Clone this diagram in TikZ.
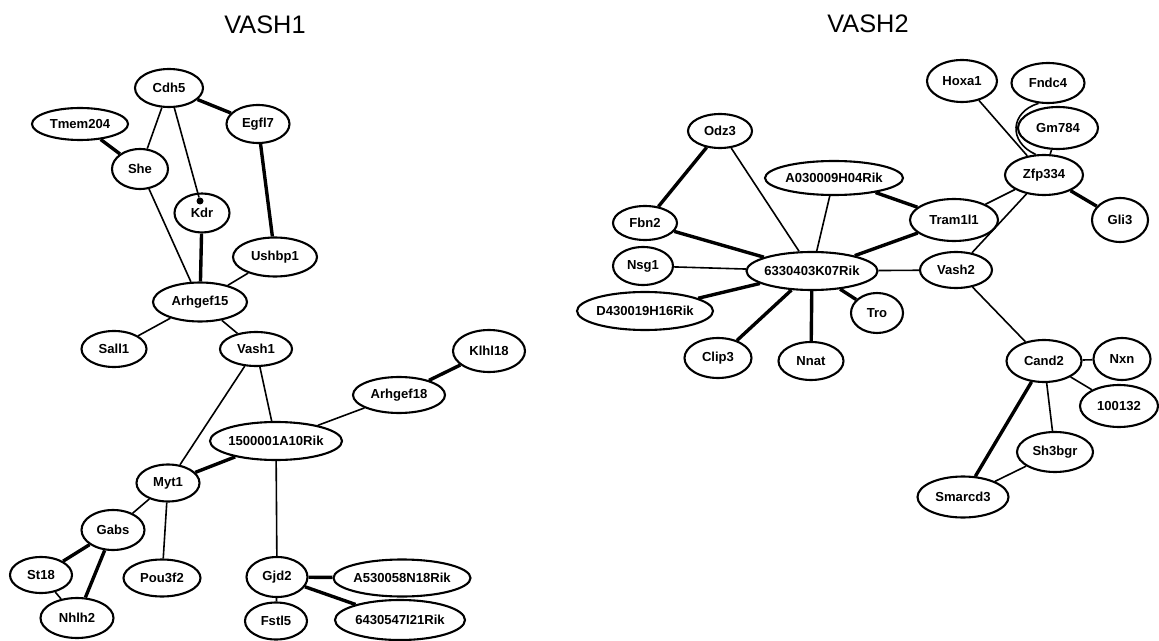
\documentclass[tikz,border=0pt]{standalone}
\usepackage{fontspec}
\setmainfont{Liberation Sans}
\usetikzlibrary{shapes.geometric}
\newcommand{\gtxt}[1]{\makebox[0pt]{#1}}
\begin{document}
\begin{tikzpicture}[x=0.75pt,y=-0.75pt,
  gn/.style={ellipse, draw=black, line width=2.1*0.75pt, inner sep=0pt, fill=white,
             font=\fontsize{9.8}{12}\selectfont\bfseries},
  sz/.style 2 args={minimum width=#1*0.75pt, minimum height=#2*0.75pt},
  ln/.style={line width=1.6*0.75pt},
  thk/.style={line width=3.4*0.75pt},
  ttl/.style={font=\fontsize{19}{22}\selectfont}]
\useasboundingbox (0,0) rectangle (1159,641);

% ---------- VASH1 ----------
\node[ttl] (t1) at (265,25) {VASH1};
\node[gn,sz={68}{38}] (cdh5) at (169,88) {\gtxt{Cdh5}};
\node[gn,sz={96}{32}] (tmem) at (80,124) {\gtxt{Tmem204}};
\node[gn,sz={63}{38}] (egfl7) at (258,124) {\gtxt{Egfl7}};
\node[gn,sz={56}{40}] (she) at (140,169) {\gtxt{She}};
\node[gn,sz={55}{39}] (kdr) at (202,213) {\raisebox{-3pt}{\gtxt{Kdr}}};
\node[circle,fill=black,inner sep=0pt,minimum size=7*0.75pt] (kdrdot) at (200,201) {};
\node[gn,sz={84}{39}] (ushbp1) at (275,257) {\gtxt{Ushbp1}};
\node[gn,sz={94}{39}] (arh15) at (200,302) {\gtxt{Arhgef15}};
\node[gn,sz={65}{36}] (sall1) at (114,349) {\gtxt{Sall1}};
\node[gn,sz={72}{34}] (vash1) at (256,349) {\gtxt{Vash1}};
\node[gn,sz={72}{42}] (klhl18) at (489,351) {\gtxt{Klhl18}};
\node[gn,sz={92}{36}] (arh18) at (399,395) {\gtxt{Arhgef18}};
\node[gn,sz={132}{38}] (r1500) at (276,441) {\gtxt{1500001A10Rik}};
\node[gn,sz={63}{37}] (myt1) at (168,483) {\gtxt{Myt1}};
\node[gn,sz={63}{40}] (gabs) at (113,530) {\gtxt{Gabs}};
\node[gn,sz={62}{36}] (st18) at (41,575) {\gtxt{St18}};
\node[gn,sz={77}{37}] (pou) at (162,578) {\gtxt{Pou3f2}};
\node[gn,sz={61}{40}] (gjd2) at (277,577) {\gtxt{Gjd2}};
\node[gn,sz={137}{37}] (a530) at (402,578) {\gtxt{A530058N18Rik}};
\node[gn,sz={73}{40}] (nhlh2) at (77,618) {\gtxt{Nhlh2}};
\node[gn,sz={62}{37}] (fstl5) at (276,621) {\gtxt{Fstl5}};
\node[gn,sz={130}{40}] (r6430) at (400,620) {\gtxt{6430547I21Rik}};

% ---------- VASH2 ----------
\node[ttl] (t2) at (868,24) {VASH2};
\node[gn,sz={70}{42}] (hoxa1) at (962,81) {\gtxt{Hoxa1}};
\node[gn,sz={73}{40}] (fndc4) at (1048,83) {\gtxt{Fndc4}};
\node[gn,sz={80}{42}] (gm784) at (1058,128) {\gtxt{Gm784}};
\node[gn,sz={64}{34}] (odz3) at (720,131) {\gtxt{Odz3}};
\node[gn,sz={138}{34}] (a030) at (834,178) {\gtxt{A030009H04Rik}};
\node[gn,sz={78}{40}] (zfp) at (1044,175) {\gtxt{Zfp334}};
\node[gn,sz={64}{34}] (fbn2) at (645,223) {\gtxt{Fbn2}};
\node[gn,sz={88}{42}] (tram) at (954,220) {\gtxt{Tram1l1}};
\node[gn,sz={56}{44}] (gli3) at (1120,220) {\gtxt{Gli3}};
\node[gn,sz={60}{38}] (nsg1) at (643,266) {\gtxt{Nsg1}};
\node[gn,sz={131}{38}] (hub) at (812,271) {\gtxt{6330403K07Rik}};
\node[gn,sz={72}{36}] (vash2) at (956,270) {\gtxt{Vash2}};
\node[gn,sz={136}{38}] (d430) at (645,311) {\gtxt{D430019H16Rik}};
\node[gn,sz={52}{40}] (tro) at (877,313) {\gtxt{Tro}};
\node[gn,sz={67}{40}] (clip3) at (718,358) {\gtxt{Clip3}};
\node[gn,sz={65}{38}] (nnat) at (811,361) {\gtxt{Nnat}};
\node[gn,sz={75}{42}] (cand2) at (1044,361) {\gtxt{Cand2}};
\node[gn,sz={57}{42}] (nxn) at (1122,359) {\gtxt{Nxn}};
\node[gn,sz={78}{42}] (c100) at (1119,406) {\gtxt{100132}};
\node[gn,sz={76}{40}] (sh3) at (1055,452) {\gtxt{Sh3bgr}};
\node[gn,sz={91}{41}] (smarcd3) at (963,497) {\gtxt{Smarcd3}};

% ---------- edges VASH1 ----------
\draw[thk] (cdh5) -- (egfl7);
\draw[thk] (tmem) -- (she);
\draw[thk] (kdr) -- (arh15);
\draw[thk] (egfl7) -- (ushbp1);
\draw[thk] (myt1) -- (r1500);
\draw[thk] (arh18) -- (klhl18);
\draw[thk] (gabs) -- (st18);
\draw[thk] (gabs) -- (nhlh2);
\draw[thk] (gjd2) -- (a530);
\draw[thk] (gjd2) -- (r6430);
\draw[ln] (cdh5.250) -- (she);
\draw[ln] (cdh5.285) -- (kdrdot);
\draw[ln] (she) -- (arh15);
\draw[ln] (ushbp1) -- (arh15);
\draw[ln] (arh15) -- (sall1);
\draw[ln] (arh15) -- (vash1);
\draw[ln] (vash1) -- (r1500);
\draw[ln] (vash1) -- (myt1);
\draw[ln] (r1500) -- (arh18);
\draw[ln] (r1500) -- (gjd2);
\draw[ln] (myt1) -- (gabs);
\draw[ln] (myt1) -- (pou);
\draw[ln] (st18) -- (nhlh2);
\draw[ln] (gjd2) -- (fstl5);

% ---------- edges VASH2 ----------
\draw[thk] (odz3) -- (fbn2);
\draw[thk] (fbn2) -- (hub);
\draw[thk] (hub) -- (d430);
\draw[thk] (hub) -- (clip3);
\draw[thk] (hub) -- (nnat);
\draw[thk] (hub) -- (tro);
\draw[thk] (hub) -- (tram);
\draw[thk] (a030) -- (tram);
\draw[thk] (zfp) -- (gli3);
\draw[thk] (cand2) -- (smarcd3);
\draw[ln] (odz3) -- (hub);
\draw[ln] (a030) -- (hub);
\draw[ln] (nsg1) -- (hub);
\draw[ln] (hub) -- (vash2);
\draw[ln] (tram) -- (zfp);
\draw[ln] (zfp) -- (vash2);
\draw[ln] (hoxa1) -- (zfp);
\draw[ln] (fndc4.245) .. controls (1010,112) and (1008,142) .. (zfp.112);
\draw[ln] (gm784) -- (zfp);
\draw[ln] (vash2) -- (cand2);
\draw[ln] (cand2) -- (nxn);
\draw[ln] (cand2) -- (c100);
\draw[ln] (cand2) -- (sh3);
\draw[ln] (sh3) -- (smarcd3);
\end{tikzpicture}
\end{document}
